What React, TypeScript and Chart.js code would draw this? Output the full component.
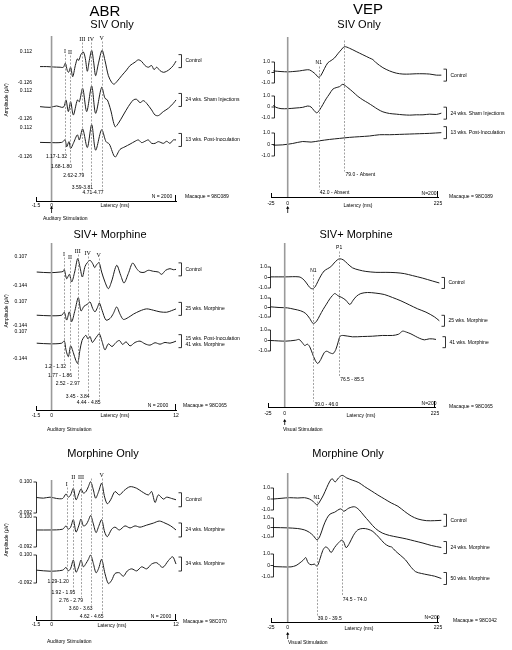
import React, { useEffect, useRef } from "react";
import { Chart, registerables } from "chart.js";

Chart.register(...registerables);

type Pt = [number, number];

const SANS = '"Liberation Sans", Arial, Helvetica, sans-serif';
const SERIF = '"Liberation Serif", "Times New Roman", serif';

// ---------------- ABR — SIV Only (Macaque 98C089), latency ms / amplitude µV
const abrSivControl: Pt[] = [
  [-1.11, 0], [-0.47, 0], [0.17, -0.003], [0.82, -0.005], [1.14, -0.005], [1.33, 0.026], [1.52, -0.031], [1.65, -0.044],
  [1.84, -0.005], [2.04, -0.078], [2.29, 0.008], [2.49, 0.06], [2.62, 0.047], [2.84, 0.094], [3.07, 0.112], [3.26, 0.06],
  [3.45, -0.036], [3.64, 0.047], [3.87, 0.125], [4.06, 0.034], [4.25, -0.07], [4.51, 0.021], [4.87, 0.125], [5.15, 0.047],
  [5.48, -0.07], [5.8, -0.122], [6.02, -0.135], [6.28, -0.117], [6.76, -0.07], [7.24, -0.026], [7.57, 0.008], [8.05, 0.034],
  [8.37, 0.052], [8.69, 0.039], [9.01, 0.008], [9.33, -0.005], [9.65, 0.008], [9.88, -0.023], [10.14, -0.005], [10.46, -0.031],
  [10.78, -0.044], [11.1, -0.036], [11.42, -0.018], [11.74, 0.008], [12, 0.042],
];
const abrSivSham: Pt[] = [
  [-1.11, -0.021], [-0.15, -0.027], [0.49, -0.015], [0.98, -0.027], [1.2, -0.021], [1.39, 0.036], [1.62, -0.063], [1.84, 0.021],
  [2.1, -0.092], [2.49, 0.036], [2.68, 0.021], [3.0, 0.135], [3.39, -0.063], [3.87, 0.154], [4.25, -0.078], [4.83, 0.143],
  [5.15, 0.05], [5.38, 0.036], [5.7, -0.049], [6.12, -0.191], [6.44, -0.163], [6.92, -0.092], [7.4, -0.021], [7.89, 0.036],
  [8.21, 0.041], [8.53, 0.013], [8.85, 0.03], [9.17, 0.007], [9.65, -0.049], [9.98, -0.092], [10.3, -0.097], [10.78, -0.063],
  [11.26, -0.035], [11.74, 0.007], [12, 0.036],
];
const abrSivPostInoc: Pt[] = [
  [-1.11, -0.006], [-0.15, -0.008], [0.98, -0.006], [1.3, 0.014], [1.46, -0.042], [1.68, 0], [1.84, -0.056], [2.1, -0.014],
  [2.49, 0.056], [2.68, 0.014], [3.0, 0.104], [3.45, -0.048], [3.87, 0.14], [4.25, -0.07], [4.83, 0.098], [5.25, 0],
  [5.57, -0.02], [6.12, -0.126], [6.6, -0.064], [7.08, -0.042], [7.57, -0.02], [8.05, 0.003], [8.37, 0.014], [8.69, -0.008],
  [9.01, 0.003], [9.33, 0.014], [9.65, -0.014], [9.98, -0.014], [10.3, 0], [10.78, -0.014], [11.1, 0.003], [11.42, -0.014],
  [11.74, 0.014], [12, 0.014],
];
const abrSivTicks = [0.112, -0.126];
const abrSivPeakNames = ["I", "II", "III", "IV", "V"];
const abrSivPeakLatency = [1.3, 1.78, 2.97, 3.8, 4.83];
const abrSivPeakRanges = ["1.17-1.32", "1.68-1.80", "2.62-2.79", "3.59-3.81", "4.71-4.77"];
const abrSivLabels = [["Control"], ["24 wks. Sham Injections"], ["13 wks. Post-Inoculation"]];

// ---------------- ABR — SIV + Morphine (Macaque 98C065)
const abrSivMorControl: Pt[] = [
  [-1.43, -0.023], [-0.15, -0.029], [0.82, -0.023], [1.14, -0.017], [1.23, 0], [1.46, -0.081], [1.72, -0.043], [1.94, -0.109],
  [2.23, -0.023], [2.52, 0.093], [2.74, 0.02], [2.97, -0.066], [3.23, 0.026], [3.45, 0.058], [3.71, 0.078], [3.97, 0.049],
  [4.16, 0.015], [4.35, 0.041], [4.58, 0.058], [4.83, -0.023], [5.15, -0.109], [5.48, -0.167], [5.8, -0.101], [6.28, 0.035],
  [6.67, -0.052], [6.99, -0.118], [7.4, -0.037], [7.82, 0.055], [8.21, 0.006], [8.53, -0.023], [8.92, -0.026], [9.33, -0.008],
  [9.82, -0.017], [10.3, -0.023], [10.62, -0.043], [11.0, -0.008], [11.42, 0.006], [11.74, -0.003], [12, 0],
];
const abrSivMor25wk: Pt[] = [
  [-1.43, -0.031], [-0.15, -0.037], [0.98, -0.031], [1.23, 0], [1.46, -0.082], [1.72, 0.004], [1.94, -0.099], [2.26, 0.021],
  [2.58, 0.152], [2.84, 0.014], [3.13, 0.062], [3.45, 0.083], [3.71, 0.107], [3.97, 0.038], [4.19, 0.004], [4.42, 0.048],
  [4.61, 0.097], [4.87, 0.021], [5.25, -0.082], [5.64, -0.065], [5.96, -0.013], [6.28, 0.055], [6.6, -0.02], [6.92, -0.075],
  [7.4, -0.055], [7.89, -0.02], [8.53, 0.014], [9.17, 0.035], [9.82, 0.021], [10.46, 0.004], [11.1, 0], [11.58, 0.017], [12, 0.035],
];
const abrSivMorPost: Pt[] = [
  [-1.43, 0.003], [-0.15, -0.003], [0.98, 0.003], [1.23, 0.025], [1.39, -0.059], [1.62, -0.122], [1.84, -0.022], [2.1, -0.085],
  [2.33, -0.154], [2.52, -0.185], [2.74, -0.059], [2.94, 0.028], [3.13, 0.06], [3.32, 0.076], [3.52, 0.041], [3.71, 0.066],
  [3.93, 0.01], [4.19, 0.041], [4.42, 0.072], [4.61, 0.091], [4.87, 0.019], [5.15, -0.059], [5.48, -0.003], [5.83, -0.028],
  [6.22, 0.01], [6.54, 0.028], [6.86, -0.009], [7.18, 0.016], [7.57, -0.022], [8.05, 0.01], [8.53, 0.022], [9.01, -0.003],
  [9.49, -0.015], [9.98, 0.007], [10.46, -0.006], [10.94, 0.01], [11.42, 0.003], [12, 0.022],
];
const abrSivMorTicks = [0.107, -0.144];
const abrSivMorPeakNames = ["I", "II", "III", "IV", "V"];
const abrSivMorPeakLatency = [1.2, 1.78, 2.52, 3.48, 4.54];
const abrSivMorPeakRanges = ["1.2 - 1.32", "1.77 - 1.86", "2.52 - 2.97", "3.45 - 3.84", "4.44 - 4.85"];
const abrSivMorLabels = [["Control"], ["25 wks. Morphine"], ["15 wks. Post-Inoculation", "41 wks. Morphine"]];

// ---------------- ABR — Morphine Only (Macaque 98C070)
const abrMorControl: Pt[] = [
  [-1.44, 0.004], [-0.79, 0], [-0.15, 0.006], [0.49, -0.002], [1.07, -0.002], [1.39, 0.026], [1.62, 0.006], [1.84, 0.02],
  [2.1, 0.061], [2.36, -0.01], [2.62, 0.026], [2.84, 0.057], [3.07, 0.031], [3.32, 0.041], [3.55, 0.071], [3.77, 0.102],
  [4.03, 0.051], [4.25, 0], [4.54, 0.041], [4.83, 0.092], [5.12, 0.006], [5.38, -0.035], [5.7, -0.01], [6.12, 0.041],
  [6.54, 0.02], [6.99, 0.047], [7.57, 0.071], [8.21, 0.061], [8.69, 0.041], [9.33, 0.02], [9.65, 0.041], [9.98, -0.027],
  [10.3, 0.02], [10.78, -0.006], [11.1, 0.006], [11.58, -0.002], [12, -0.01],
];
const abrMor24wk: Pt[] = [
  [-1.44, 0.017], [-0.15, 0.017], [1.07, 0.022], [1.39, 0.043], [1.62, 0.022], [1.84, 0.035], [2.1, 0.083], [2.36, 0.004],
  [2.62, 0.043], [2.84, 0.087], [3.07, 0.043], [3.32, 0.05], [3.55, 0.078], [3.77, 0.109], [4.03, 0.056], [4.29, 0],
  [4.54, 0.039], [4.83, 0.083], [5.12, 0.004], [5.38, -0.026], [5.8, 0.022], [6.12, 0.035], [6.54, 0.017], [7.08, 0.043],
  [7.57, 0.03], [8.05, 0.043], [8.53, 0.035], [9.17, 0.048], [9.82, 0.061], [10.39, 0.074], [10.94, 0.061], [11.49, 0.043], [12, 0.017],
];
const abrMor34wk: Pt[] = [
  [-1.44, -0.004], [-0.15, -0.011], [1.07, -0.004], [1.39, 0.015], [1.62, -0.009], [1.84, 0.008], [2.1, 0.065], [2.36, -0.018],
  [2.62, 0.019], [2.84, 0.065], [3.07, 0.019], [3.32, 0.042], [3.55, 0.07], [3.77, 0.1], [4.03, 0.042], [4.29, -0.022],
  [4.54, 0.008], [4.83, 0.07], [5.15, -0.027], [5.48, -0.096], [5.8, -0.073], [6.12, -0.027], [6.54, -0.022], [6.92, -0.046],
  [7.31, -0.009], [7.73, 0.005], [8.21, -0.009], [8.69, 0.019], [9.17, 0.005], [9.65, 0.038], [10.14, 0.047], [10.72, 0.015],
  [11.26, 0.061], [11.68, 0.088], [12, 0.038],
];
const abrMorTicks = [0.1, -0.092];
const abrMorPeakNames = ["I", "II", "III", "", "V"];
const abrMorPeakLatency = [1.46, 2.1, 2.84, 3.77, 4.83];
const abrMorPeakRanges = ["1.29-1.20", "1.92 - 1.95", "2.76 - 2.79", "3.60 - 3.63", "4.62 - 4.65"];
const abrMorLabels = [["Control"], ["24 wks. Morphine"], ["34 wks. Morphine"]];

// ---------------- VEP — SIV Only (Macaque 98C089), latency ms / amplitude µV
const vepSivControl: Pt[] = [
  [-21.5, 0.15], [-10, 0.09], [0, 0.06], [7.5, 0.09], [17.5, 0.15], [27.5, 0.25], [32.5, 0.25], [37.5, 0.06], [41.5, -0.15],
  [46.5, -0.46], [50, -0.25], [55, 0.37], [60, 0.92], [65, 1.14], [70, 1.38], [75, 1.78], [80, 2.15], [85, 2.46], [92.5, 2.31],
  [102.5, 2.0], [112.5, 1.69], [122.5, 1.38], [127.5, 1.23], [132.5, 0.92], [142.5, 0.46], [152.5, 0.15], [162.5, -0.06],
  [172.5, -0.15], [182.5, -0.15], [192.5, -0.12], [202.5, -0.12], [212.5, -0.15], [222.5, -0.25], [230, -0.25],
];
const vepSivSham: Pt[] = [
  [-21.5, 0.15], [-17.5, -0.03], [-10, -0.15], [0, -0.15], [12.5, -0.09], [22.5, -0.03], [30, 0.09], [35, 0], [39, -0.29],
  [43.5, -0.53], [47.5, -0.29], [52.5, 0.21], [57.5, 0.74], [62.5, 1.18], [67.5, 1.62], [72.5, 1.76], [77.5, 1.85], [82.5, 2.06],
  [90, 1.76], [97.5, 1.38], [105, 0.97], [112.5, 0.65], [120, 0.38], [127.5, 0.09], [135, -0.21], [142.5, -0.44], [152.5, -0.59],
  [162.5, -0.65], [172.5, -0.71], [182.5, -0.74], [192.5, -0.71], [202.5, -0.71], [212.5, -0.65], [222.5, -0.68], [230, -0.56],
];
const vepSivPostInoc: Pt[] = [
  [-21.5, -0.06], [-7.5, -0.03], [7.5, 0.09], [22.5, 0.26], [35, 0.21], [47.5, 0.32], [62.5, 0.44], [77.5, 0.53], [92.5, 0.62],
  [107.5, 0.68], [122.5, 0.74], [137.5, 0.85], [152.5, 0.85], [167.5, 0.88], [182.5, 0.91], [197.5, 0.94], [212.5, 0.97], [230, 1.03],
];
const vepTicks = [1, 0, -1];
const vepSivPeakNames = ["N1", ""];
const vepSivPeakLatency = [46.5, 85];
const vepSivPeakRanges = ["42.0 - Absent", "79.0 - Absent"];
const vepSivLabels = [["Control"], ["24 wks. Sham Injections"], ["13 wks. Post-Inoculation"]];

// ---------------- VEP — SIV + Morphine (Macaque 98C065)
const vepSivMorControl: Pt[] = [
  [-21, 0.06], [1.5, 0.06], [21.5, 0.06], [27.5, -0.15], [32.5, -0.52], [37.5, -0.95], [41.5, -1.08], [45.5, -0.89], [49.5, -0.4],
  [54, 0.15], [59, 0.62], [64, 0.83], [69, 1.02], [74, 1.38], [79, 1.69], [82.5, 1.78], [87.5, 1.69], [94, 1.32], [101.5, 0.92],
  [111.5, 0.71], [121.5, 0.58], [136.5, 0.49], [151.5, 0.49], [166.5, 0.46], [179, 0.37], [191.5, 0.18], [206.5, -0.06],
  [221.5, -0.34], [231.5, -0.52],
];
const vepSivMor25wk: Pt[] = [
  [-21, 0.07], [-8.5, 0], [4, -0.04], [14, -0.18], [24, -0.35], [31.5, -0.63], [37.5, -1.16], [42.5, -1.68], [47.5, -1.47],
  [52.5, -0.84], [57.5, -0.21], [62.5, 0.35], [67.5, 0.91], [71.5, 1.26], [75, 1.47], [80, 1.23], [85.5, 1.05], [91.5, 0.77],
  [97.5, 0.32], [102.5, 0.77], [107.5, 1.19], [114, 1.47], [124, 1.58], [136.5, 1.51], [149, 1.37], [161.5, 1.05], [174, 0.7],
  [186.5, 0.28], [199, -0.14], [211.5, -0.49], [224, -0.98], [231.5, -1.4],
];
const vepSivMor41wk: Pt[] = [
  [-21, 0], [1.5, -0.06], [16.5, 0.03], [21.5, 0.1], [26.5, -0.22], [30, -0.48], [34, -0.35], [37.5, -0.6], [41.5, -1.24],
  [45.5, -1.87], [49.5, -2.19], [54, -1.81], [59, -1.17], [63, -1.02], [67.5, -1.17], [72.5, -1.24], [76.5, -0.86], [80, -0.16],
  [83, 0.41], [87.5, 0.48], [101.5, 0.35], [116.5, 0.38], [131.5, 0.41], [146.5, 0.48], [161.5, 0.48], [170.5, 0.6], [176.5, 0.89],
  [182.5, 0.79], [189, 0.63], [195.5, 0.41], [201.5, 0.22], [209, 0.06], [216.5, 0.16], [226.5, 0.1], [232.5, -0.16],
];
const vepSivMorPeakNames = ["N1", "P1"];
const vepSivMorPeakLatency = [43, 81.5];
const vepSivMorPeakRanges = ["39.0 - 46.0", "76.5 - 85.5"];
const vepSivMorLabels = [["Control"], ["25 wks. Morphine"], ["41 wks. Morphine"]];

// ---------------- VEP — Morphine Only (Macaque 98C042)
const vepMorControl: Pt[] = [
  [-21.5, 0], [-10, 0.06], [2.5, 0.12], [15, 0.09], [25, 0.12], [32.5, 0], [38.5, -0.24], [44, -0.54], [48.5, -0.18], [53.5, 0.36],
  [58.5, 1.04], [62.5, 1.55], [66.5, 1.85], [71, 1.55], [76, 1.91], [81.5, 2.15], [88.5, 1.91], [97.5, 1.7], [106.5, 1.49],
  [115, 1.13], [125, 0.75], [135, 0.36], [145, 0], [155, -0.36], [165, -0.66], [175, -1.13], [185, -1.55], [195, -1.82],
  [207.5, -1.97], [220, -1.97], [230, -1.94],
];
const vepMor24wk: Pt[] = [
  [-21.5, 0], [0, -0.04], [15, -0.11], [25, -0.25], [32.5, -0.51], [38.5, -0.87], [44, -1.31], [48.5, -0.87], [53.5, 0.15],
  [58.5, 0.95], [63.5, 1.42], [70, 1.6], [79, 1.96], [84, 1.71], [91.5, 2.04], [100, 2.18], [106.5, 1.89], [113.5, 1.31],
  [122.5, 0.58], [131.5, -0.11], [141.5, -0.58], [152.5, -0.84], [165, -1.02], [177.5, -1.2], [190, -1.42], [202.5, -1.64],
  [215, -1.89], [230, -2.11],
];
const vepMor50wk: Pt[] = [
  [-21.5, -0.09], [-7.5, -0.12], [5, -0.12], [12.5, 0], [18.5, 0.24], [23.5, 0.48], [27, 0.69], [30.5, 0.24], [35, 0.06],
  [40, 0.12], [44, -0.06], [48.5, 0.6], [52.5, 1.31], [56.5, 1.61], [60.5, 1.49], [65, 1.13], [70, 1.55], [75, 1.91], [81, 2.21],
  [84, 2.03], [87.5, 1.55], [92.5, 1.94], [98.5, 2.63], [105, 3.1], [112.5, 3.22], [120, 3.16], [127.5, 2.96], [136.5, 2.45],
  [145, 1.91], [151.5, 1.67], [155.5, 1.61], [161.5, 1.25], [168.5, 0.9], [176.5, 0.48], [183.5, -0.06], [191.5, -0.54],
  [200, -0.69], [210, -0.81], [220, -0.93], [230, -1.13],
];
const vepMorPeakNames = ["N1", ""];
const vepMorPeakLatency = [43.5, 81];
const vepMorPeakRanges = ["39.0 - 39.5", "74.5 - 74.0"];
const vepMorLabels = [["Control"], ["24 wks. Morphine"], ["50 wks. Morphine"]];

const abrXTicksTop = [-1.5, 0];
const abrXTicks = [-1.5, 0, 12];
const vepXTicks = [-25, 0, 225];

// ---------------- types
interface PanelData {
  title?: string;
  subtitle: string;
  traces: Pt[][];
  traceLabels: string[][];
  yTicks: number[];
  yFormat: (v: number) => string;
  xRange: [number, number];
  xTicks: number[];
  peakNames: string[];
  peakLatency: number[];
  peakRanges: string[];
  nText: string;
  macaque: string;
  stimText: string;
}
interface PanelLayout {
  area: { left: number; right: number; top: number; bottom: number };
  yLabelPx: [number, number][];
  yTickPad: number;
  xTickPad: number;
  yBracket: boolean;
  yBracketOffset: number;
  titleXY?: [number, number];
  subtitleXY: [number, number];
  stimTop: number;
  arrow?: [number, number];
  stimTextXY?: [number, number];
  latXY: [number, number];
  nXY: [number, number];
  macXY: [number, number];
  ampXY?: [number, number];
  nameY: number[];
  rangeY: number[];
  rangeAlign: "left" | "right";
  bracketHalf: number;
}

const abrFmt = (v: number) => v.toFixed(3);
const vepFmt = (v: number) => (v === 0 ? "0" : v.toFixed(1));

const PANELS: { data: PanelData; layout: PanelLayout }[] = [
  {
    data: {
      title: "ABR", subtitle: "SIV Only", traces: [abrSivControl, abrSivSham, abrSivPostInoc], traceLabels: abrSivLabels,
      yTicks: abrSivTicks, yFormat: abrFmt, xRange: [-1.5, 12], xTicks: abrXTicksTop, peakNames: abrSivPeakNames,
      peakLatency: abrSivPeakLatency, peakRanges: abrSivPeakRanges, nText: "N = 2000", macaque: "Macaque = 98C089",
      stimText: "Auditory Stimulation",
    },
    layout: {
      area: { left: 36, right: 176, top: 40, bottom: 201 }, yLabelPx: [[52, 83], [91, 119], [128, 157]],
      yTickPad: 4, xTickPad: 2, yBracket: false, yBracketOffset: 0, titleXY: [105, 12], subtitleXY: [112, 25],
      stimTop: 36, arrow: [206, 213], stimTextXY: [43, 219], latXY: [115, 206], nXY: [162, 197], macXY: [185, 197],
      ampXY: [7, 100], nameY: [51, 52, 39, 39, 38], rangeY: [157, 167, 176, 188, 193], rangeAlign: "right", bracketHalf: 6.5,
    },
  },
  {
    data: {
      title: "VEP", subtitle: "SIV Only", traces: [vepSivControl, vepSivSham, vepSivPostInoc], traceLabels: vepSivLabels,
      yTicks: vepTicks, yFormat: vepFmt, xRange: [-25, 225], xTicks: vepXTicks, peakNames: vepSivPeakNames,
      peakLatency: vepSivPeakLatency, peakRanges: vepSivPeakRanges, nText: "N=200", macaque: "Macaque = 98C089",
      stimText: "",
    },
    layout: {
      area: { left: 271, right: 438, top: 40, bottom: 197 }, yLabelPx: [[62, 83], [96, 118], [133, 156]],
      yTickPad: 1, xTickPad: 4, yBracket: true, yBracketOffset: 3, titleXY: [368, 10], subtitleXY: [359, 25],
      stimTop: 37, arrow: [206, 213], latXY: [358, 206], nXY: [429, 194], macXY: [449, 197],
      nameY: [63, 37], rangeY: [193, 175], rangeAlign: "left", bracketHalf: 6,
    },
  },
  {
    data: {
      subtitle: "SIV+ Morphine", traces: [abrSivMorControl, abrSivMor25wk, abrSivMorPost], traceLabels: abrSivMorLabels,
      yTicks: abrSivMorTicks, yFormat: abrFmt, xRange: [-1.5, 12], xTicks: abrXTicks, peakNames: abrSivMorPeakNames,
      peakLatency: abrSivMorPeakLatency, peakRanges: abrSivMorPeakRanges, nText: "N = 2000", macaque: "Macaque = 98C065",
      stimText: "Auditory Stimulation",
    },
    layout: {
      area: { left: 36, right: 176, top: 245, bottom: 410 }, yLabelPx: [[257, 286], [302, 326], [332, 359]],
      yTickPad: 9, xTickPad: 3, yBracket: false, yBracketOffset: 0, subtitleXY: [110, 235],
      stimTop: 243, stimTextXY: [47, 430], latXY: [115, 416], nXY: [158, 406], macXY: [183, 406], ampXY: [7, 311],
      nameY: [254, 257, 251, 253, 255], rangeY: [367, 376, 384, 397, 403], rangeAlign: "right", bracketHalf: 6.5,
    },
  },
  {
    data: {
      subtitle: "SIV+ Morphine", traces: [vepSivMorControl, vepSivMor25wk, vepSivMor41wk], traceLabels: vepSivMorLabels,
      yTicks: vepTicks, yFormat: vepFmt, xRange: [-25, 225], xTicks: vepXTicks, peakNames: vepSivMorPeakNames,
      peakLatency: vepSivMorPeakLatency, peakRanges: vepSivMorPeakRanges, nText: "N=200", macaque: "Macaque = 98C065",
      stimText: "Visual Stimulation",
    },
    layout: {
      area: { left: 268, right: 435, top: 245, bottom: 407 }, yLabelPx: [[267, 288], [298, 317], [330, 351]],
      yTickPad: 1, xTickPad: 4, yBracket: true, yBracketOffset: 2, subtitleXY: [356, 235],
      stimTop: 243, arrow: [419, 425], stimTextXY: [283, 430], latXY: [361, 416], nXY: [429, 404], macXY: [449, 407],
      nameY: [271, 248], rangeY: [405, 380], rangeAlign: "left", bracketHalf: 5.5,
    },
  },
  {
    data: {
      subtitle: "Morphine Only", traces: [abrMorControl, abrMor24wk, abrMor34wk], traceLabels: abrMorLabels,
      yTicks: abrMorTicks, yFormat: abrFmt, xRange: [-1.5, 12], xTicks: abrXTicks, peakNames: abrMorPeakNames,
      peakLatency: abrMorPeakLatency, peakRanges: abrMorPeakRanges, nText: "N = 2000", macaque: "Macaque = 98C070",
      stimText: "Auditory Stimulation",
    },
    layout: {
      area: { left: 36, right: 176, top: 470, bottom: 620 }, yLabelPx: [[482, 513], [517, 547], [555, 583]],
      yTickPad: 4, xTickPad: 2, yBracket: true, yBracketOffset: 0, subtitleXY: [103, 454],
      stimTop: 480, stimTextXY: [47, 642], latXY: [112, 626], nXY: [161, 617], macXY: [183, 622], ampXY: [7, 540],
      nameY: [484, 477, 477, 475, 475], rangeY: [582, 593, 601, 609, 617], rangeAlign: "right", bracketHalf: 7,
    },
  },
  {
    data: {
      subtitle: "Morphine Only", traces: [vepMorControl, vepMor24wk, vepMor50wk], traceLabels: vepMorLabels,
      yTicks: vepTicks, yFormat: vepFmt, xRange: [-25, 225], xTicks: vepXTicks, peakNames: vepMorPeakNames,
      peakLatency: vepMorPeakLatency, peakRanges: vepMorPeakRanges, nText: "N=200", macaque: "Macaque = 98C042",
      stimText: "Visual Stimulation",
    },
    layout: {
      area: { left: 271, right: 438, top: 470, bottom: 622 }, yLabelPx: [[488, 510], [518, 537], [554, 577]],
      yTickPad: 1, xTickPad: 3, yBracket: true, yBracketOffset: 2, subtitleXY: [348, 454],
      stimTop: 473, arrow: [632, 639], stimTextXY: [288, 643], latXY: [359, 629], nXY: [432, 618], macXY: [453, 621],
      nameY: [498, 474], rangeY: [619, 600], rangeAlign: "left", bracketHalf: 6,
    },
  },
];

function seg(ctx: CanvasRenderingContext2D, x1: number, y1: number, x2: number, y2: number) {
  ctx.beginPath();
  ctx.moveTo(x1, y1);
  ctx.lineTo(x2, y2);
  ctx.stroke();
}

function makePlugin(d: PanelData, L: PanelLayout) {
  return {
    id: "figureAnnotations",
    afterDraw(chart: any) {
      const ctx = chart.ctx as CanvasRenderingContext2D;
      const xs = chart.scales.x;
      const a = chart.chartArea;
      ctx.save();
      ctx.fillStyle = "#000";
      ctx.textBaseline = "middle";
      ctx.textAlign = "center";
      if (d.title && L.titleXY) {
        ctx.font = `15px ${SANS}`;
        ctx.fillText(d.title, L.titleXY[0], L.titleXY[1]);
      }
      ctx.font = `11px ${SANS}`;
      ctx.fillText(d.subtitle, L.subtitleXY[0], L.subtitleXY[1]);

      // stimulus onset line
      const x0 = xs.getPixelForValue(0);
      ctx.strokeStyle = "#9a9a9a";
      ctx.lineWidth = 1.6;
      seg(ctx, x0, L.stimTop, x0, a.bottom);

      ctx.strokeStyle = "#000";
      ctx.lineWidth = 0.8;
      if (L.arrow) {
        const [ya, yb] = L.arrow;
        seg(ctx, x0, ya + 1, x0, yb);
        ctx.beginPath();
        ctx.moveTo(x0 - 1.6, ya + 2.8);
        ctx.lineTo(x0, ya);
        ctx.lineTo(x0 + 1.6, ya + 2.8);
        ctx.closePath();
        ctx.fill();
      }
      ctx.font = `5px ${SANS}`;
      if (L.stimTextXY && d.stimText) {
        ctx.textAlign = "left";
        ctx.fillText(d.stimText, L.stimTextXY[0], L.stimTextXY[1]);
      }
      // end ticks of the latency axis
      ctx.lineWidth = 1;
      seg(ctx, a.left + 0.5, a.bottom, a.left + 0.5, a.bottom - 4);
      seg(ctx, a.right - 0.5, a.bottom, a.right - 0.5, a.bottom - 6);

      ctx.textAlign = "center";
      ctx.fillText("Latency (ms)", L.latXY[0], L.latXY[1]);
      ctx.fillText(d.nText, L.nXY[0], L.nXY[1]);
      ctx.textAlign = "left";
      ctx.fillText(d.macaque, L.macXY[0], L.macXY[1]);

      if (L.ampXY) {
        ctx.save();
        ctx.translate(L.ampXY[0], L.ampXY[1]);
        ctx.rotate(-Math.PI / 2);
        ctx.textAlign = "center";
        ctx.fillText("Amplitude (\u00b5V)", 0, 0);
        ctx.restore();
      }

      // dashed peak latency markers
      ctx.strokeStyle = "#8a8a8a";
      ctx.lineWidth = 0.8;
      ctx.setLineDash([2, 1.5]);
      d.peakLatency.forEach((lat, i) => {
        const px = Math.round(xs.getPixelForValue(lat)) + 0.5;
        seg(ctx, px, L.nameY[i] + 3.5, px, L.rangeY[i] - 3.5);
      });
      ctx.setLineDash([]);
      d.peakNames.forEach((nm, i) => {
        if (!nm) return;
        const px = xs.getPixelForValue(d.peakLatency[i]);
        ctx.font = L.rangeAlign === "right" ? `6px ${SERIF}` : `5px ${SANS}`;
        ctx.textAlign = "center";
        ctx.fillText(nm, px, L.nameY[i]);
      });
      ctx.font = `5px ${SANS}`;
      d.peakRanges.forEach((t, i) => {
        const px = xs.getPixelForValue(d.peakLatency[i]);
        if (L.rangeAlign === "right") {
          ctx.textAlign = "right";
          ctx.fillText(t, px + 2, L.rangeY[i]);
        } else {
          ctx.textAlign = "left";
          ctx.fillText(t, px + 1, L.rangeY[i]);
        }
      });

      // right-hand brackets with condition labels
      ctx.strokeStyle = "#000";
      ctx.lineWidth = 0.8;
      d.traces.forEach((tr, i) => {
        const ys = chart.scales["y" + i];
        const last = tr[tr.length - 1];
        const bx = Math.round(xs.getPixelForValue(last[0]) + 5) + 0.5;
        const by = ys.getPixelForValue(last[1]);
        const h = L.bracketHalf;
        ctx.beginPath();
        ctx.moveTo(bx - 3, by - h);
        ctx.lineTo(bx, by - h);
        ctx.lineTo(bx, by + h);
        ctx.lineTo(bx - 3, by + h);
        ctx.stroke();
        ctx.textAlign = "left";
        const lines = d.traceLabels[i];
        lines.forEach((t, k) => ctx.fillText(t, bx + 4, by + (k - (lines.length - 1) / 2) * 6));
      });

      // amplitude scale brackets
      if (L.yBracket) {
        d.traces.forEach((_, i) => {
          const ys = chart.scales["y" + i];
          const bx = a.left + L.yBracketOffset + 0.5;
          const pts = d.yTicks.map((v) => ys.getPixelForValue(v));
          seg(ctx, bx, Math.min(...pts), bx, Math.max(...pts));
          pts.forEach((p) => seg(ctx, bx - 3, p, bx, p));
        });
      }
      ctx.restore();
    },
  };
}

function buildConfig(d: PanelData, L: PanelLayout): any {
  const AXIS_W = 30;
  const AXIS_H = 10;
  const tickFont = { family: SANS, size: 5 };
  const scales: any = {
    x: {
      type: "linear",
      position: "bottom",
      min: d.xRange[0],
      max: d.xRange[1],
      grid: { display: false, drawTicks: false },
      border: { display: true, color: "#000", width: 1 },
      ticks: { font: tickFont, color: "#000", padding: L.xTickPad, autoSkip: false, maxRotation: 0, minRotation: 0, callback: (v: number) => String(v) },
      afterBuildTicks: (ax: any) => {
        ax.ticks = d.xTicks.map((v) => ({ value: v }));
      },
      afterFit: (ax: any) => {
        ax.height = AXIS_H;
        ax.paddingLeft = 0;
        ax.paddingRight = 0;
      },
    },
  };
  const n = d.traces.length;
  const vTop = d.yTicks[0];
  const vBot = d.yTicks[d.yTicks.length - 1];
  let bTop = L.area.top;
  for (let i = 0; i < n; i++) {
    const [pTop, pBot] = L.yLabelPx[i];
    const bBot = i < n - 1 ? (pBot + L.yLabelPx[i + 1][0]) / 2 : pBot + 6;
    const vpp = (vTop - vBot) / (pBot - pTop);
    scales["y" + i] = {
      type: "linear",
      position: "left",
      stack: "traces",
      stackWeight: bBot - bTop,
      weight: 10 - i,
      min: vBot - (bBot - pBot) * vpp,
      max: vTop + (pTop - bTop) * vpp,
      grid: { display: false, drawTicks: false },
      border: { display: false },
      ticks: { font: tickFont, color: "#000", padding: L.yTickPad, autoSkip: false, callback: (v: number) => d.yFormat(v) },
      afterBuildTicks: (ax: any) => {
        ax.ticks = d.yTicks.map((v) => ({ value: v }));
      },
      afterFit: (ax: any) => {
        ax.width = AXIS_W;
        ax.paddingTop = 0;
        ax.paddingBottom = 0;
      },
    };
    bTop = bBot;
  }
  scales.ySpacer = {
    type: "linear",
    position: "left",
    stack: "traces",
    stackWeight: Math.max(1, L.area.bottom - bTop),
    weight: 0,
    min: 0,
    max: 1,
    grid: { display: false, drawTicks: false },
    border: { display: false },
    ticks: { display: false },
    afterFit: (ax: any) => {
      ax.width = AXIS_W;
      ax.paddingTop = 0;
      ax.paddingBottom = 0;
    },
  };

  const datasets = d.traces.map((tr, i) => ({
    label: d.traceLabels[i].join(" "),
    data: tr.map(([x, y]) => ({ x, y })),
    xAxisID: "x",
    yAxisID: "y" + i,
    borderColor: "#1c1c1c",
    borderWidth: 1,
    pointRadius: 0,
    tension: 0.3,
    fill: false,
    clip: false,
  }));

  return {
    type: "line",
    data: { datasets },
    options: {
      responsive: false,
      maintainAspectRatio: false,
      animation: false,
      events: [],
      layout: {
        padding: {
          left: L.area.left - AXIS_W,
          top: L.area.top,
          right: 512 - L.area.right,
          bottom: 650 - L.area.bottom - AXIS_H,
        },
      },
      plugins: { legend: { display: false }, tooltip: { enabled: false }, title: { display: false } },
      scales,
    },
    plugins: [makePlugin(d, L)],
  };
}

function Panel({ data, layout }: { data: PanelData; layout: PanelLayout }) {
  const ref = useRef<HTMLCanvasElement>(null);
  useEffect(() => {
    if (!ref.current) return;
    const chart = new Chart(ref.current, buildConfig(data, layout));
    return () => chart.destroy();
  }, [data, layout]);
  return <canvas ref={ref} width={512} height={650} style={{ position: "absolute", left: 0, top: 0 }} />;
}

export default function App() {
  Chart.defaults.font.family = SANS;
  Chart.defaults.color = "#000";
  return (
    <div style={{ position: "fixed", left: 0, top: 0, width: 512, height: 650, background: "#fff", overflow: "hidden" }}>
      {PANELS.map((p, i) => (
        <Panel key={i} data={p.data} layout={p.layout} />
      ))}
    </div>
  );
}
